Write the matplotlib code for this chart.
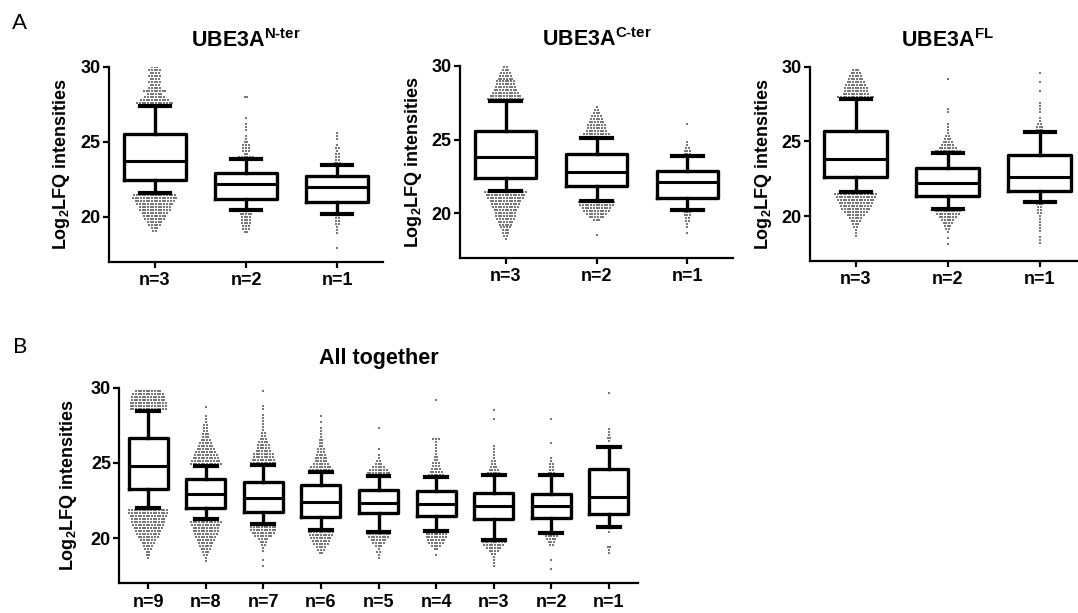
import numpy as np
import matplotlib
matplotlib.use("Agg")
import matplotlib.pyplot as plt

plt.rcParams['font.family'] = ['Liberation Sans', 'DejaVu Sans']
plt.rcParams['font.weight'] = 'bold'
plt.rcParams['axes.labelweight'] = 'bold'
plt.rcParams['axes.titleweight'] = 'bold'
plt.rcParams['mathtext.fontset'] = 'custom'
plt.rcParams['mathtext.rm'] = 'Liberation Sans:bold'
plt.rcParams['mathtext.it'] = 'Liberation Sans:bold'
plt.rcParams['mathtext.bf'] = 'Liberation Sans:bold'

# ---------------- data ----------------
a_labels = ['n=3', 'n=2', 'n=1']
b_labels = ['n=9', 'n=8', 'n=7', 'n=6', 'n=5', 'n=4', 'n=3', 'n=2', 'n=1']

# box statistics (log2 LFQ): lower whisker, Q1, median, Q3, upper whisker
nter_wlo = [21.56, 20.47, 20.20]
nter_q1 = [22.42, 21.20, 20.96]
nter_med = [23.69, 22.18, 22.00]
nter_q3 = [25.51, 22.90, 22.69]
nter_whi = [27.40, 23.82, 23.45]

cter_wlo = [21.54, 20.86, 20.22]
cter_q1 = [22.42, 21.88, 21.02]
cter_med = [23.86, 22.78, 22.15]
cter_q3 = [25.62, 24.04, 22.90]
cter_whi = [27.63, 25.10, 23.93]

fl_wlo = [21.60, 20.47, 20.92]
fl_q1 = [22.60, 21.36, 21.69]
fl_med = [23.81, 22.25, 22.60]
fl_q3 = [25.68, 23.20, 24.08]
fl_whi = [27.82, 24.20, 25.60]

all_wlo = [22.03, 21.27, 20.91, 20.56, 20.40, 20.47, 19.89, 20.36, 20.76]
all_q1 = [23.29, 22.03, 21.76, 21.40, 21.65, 21.49, 21.25, 21.31, 21.62]
all_med = [24.82, 22.96, 22.69, 22.42, 22.36, 22.29, 22.16, 22.16, 22.76]
all_q3 = [26.63, 23.91, 23.73, 23.51, 23.18, 23.13, 23.03, 22.93, 24.58]
all_whi = [28.47, 24.80, 24.89, 24.40, 24.16, 24.05, 24.18, 24.22, 26.07]

# points outside the whiskers: number of points per 0.2-wide level,
# counted outward from the first level above / below the whisker
LEVEL = 0.2

nter_hi_start = [27.55, 23.95, 23.55]
nter_hi_counts = [
    [14, 11, 8, 6, 9, 5, 4, 5, 4, 5, 4, 5, 3],
    [6, 2, 3, 3, 3, 2, 1, 1, 0, 1, 1, 1, 0, 1, 0, 0, 0, 0, 0, 0, 2],
    [3, 2, 2, 2, 1, 2, 1, 0, 1, 1, 1],
]
nter_lo_start = [21.45, 20.35, 20.10]
nter_lo_counts = [
    [16, 17, 15, 14, 12, 12, 10, 9, 8, 6, 5, 3, 2],
    [7, 5, 4, 4, 4, 3, 3, 2],
    [3, 2, 2, 2, 1, 1, 1, 0, 0, 0, 0, 1],
]

cter_hi_start = [27.75, 25.20, 24.05]
cter_hi_counts = [
    [14, 12, 10, 9, 8, 7, 7, 6, 5, 4, 3, 2],
    [12, 10, 8, 7, 7, 6, 5, 4, 3, 2, 1],
    [3, 3, 2, 1, 1, 0, 0, 0, 0, 0, 1],
]
cter_lo_start = [21.45, 20.75, 20.10]
cter_lo_counts = [
    [16, 15, 14, 12, 11, 10, 9, 8, 8, 7, 6, 5, 4, 3, 3, 2, 1],
    [14, 13, 11, 10, 8, 6, 3, 0, 0, 0, 0, 1],
    [3, 3, 2, 2, 1, 1, 0, 1],
]

fl_hi_start = [27.95, 24.35, 25.75]
fl_hi_counts = [
    [14, 10, 9, 9, 8, 7, 6, 5, 4, 3],
    [10, 7, 5, 4, 3, 2, 1, 1, 1, 1, 0, 0, 0, 1, 1, 0, 0, 0, 0, 0, 0, 0, 0, 0, 1],
    [3, 3, 2, 1, 1, 0, 1, 1, 1, 1, 0, 0, 0, 1, 0, 0, 1, 0, 0, 1],
]
fl_lo_start = [21.45, 20.35, 20.80]
fl_lo_counts = [
    [16, 15, 14, 13, 12, 11, 9, 7, 5, 4, 3, 2, 1, 1, 1],
    [10, 9, 7, 5, 4, 3, 2, 1, 0, 1, 0, 1],
    [3, 2, 2, 2, 1, 1, 1, 1, 1, 1, 0, 1, 1, 1],
]

all_hi_start = [28.60, 24.95, 25.00, 24.55, 24.30, 24.20, 24.30, 24.35, 26.25]
all_hi_counts = [
    [14, 14, 14, 13, 13, 12, 10],
    [12, 11, 10, 9, 8, 7, 6, 5, 4, 3, 3, 2, 2, 2, 1, 1, 1, 0, 0, 1],
    [10, 9, 8, 8, 6, 5, 5, 4, 3, 2, 2, 1, 1, 1, 1, 1, 1, 0, 1, 1, 0, 0, 0, 0, 1],
    [9, 8, 6, 5, 5, 4, 3, 3, 2, 2, 2, 1, 1, 1, 1, 0, 1, 0, 1],
    [9, 7, 5, 3, 2, 1, 1, 0, 1, 0, 0, 0, 0, 0, 0, 1],
    [6, 5, 4, 3, 3, 2, 2, 1, 1, 1, 1, 1, 3, 0, 0, 0, 0, 0, 0, 0, 0, 0, 0, 0, 0, 1],
    [5, 4, 3, 2, 2, 1, 1, 1, 1, 1, 0, 0, 0, 0, 0, 0, 0, 0, 1, 0, 0, 1],
    [3, 2, 2, 2, 1, 1, 0, 0, 0, 0, 1, 0, 0, 0, 0, 0, 0, 0, 1],
    [0, 1, 2, 1, 1, 1, 0, 0, 0, 0, 0, 0, 0, 0, 0, 0, 0, 1],
]
all_lo_start = [21.85, 21.10, 20.75, 20.40, 20.25, 20.30, 19.75, 20.15, 20.40]
all_lo_counts = [
    [15, 15, 14, 13, 13, 12, 11, 10, 9, 8, 6, 5, 4, 3, 2, 2, 1],
    [12, 11, 10, 10, 9, 8, 7, 6, 5, 4, 3, 2, 1, 1],
    [10, 10, 9, 7, 4, 3, 2, 1, 1, 0, 0, 1, 0, 1],
    [10, 9, 8, 7, 6, 4, 3, 2],
    [9, 8, 6, 5, 3, 1, 2, 1, 1],
    [8, 8, 7, 6, 4, 2, 0, 1],
    [9, 8, 6, 4, 2, 1, 1, 1, 1],
    [5, 4, 3, 2, 0, 0, 0, 0, 1, 0, 0, 1],
    [1, 0, 0, 0, 0, 2, 1, 1],
]

# ---------------- drawing ----------------
FIG_W, FIG_H = 1078, 613
fig = plt.figure(figsize=(FIG_W / 100, FIG_H / 100), dpi=100)


def px_axes(left, right, top, bottom):
    return fig.add_axes([left / FIG_W, 1 - bottom / FIG_H,
                         (right - left) / FIG_W, (bottom - top) / FIG_H])


def panel(ax, labels, wlo, q1, med, q3, whi, hi_start, hi_counts,
          lo_start, lo_counts, width_px, capw, title, title_pad, ylab_off):
    n = len(labels)
    pos = np.arange(n)
    stats = [dict(whislo=wlo[i], q1=q1[i], med=med[i], q3=q3[i],
                  whishi=whi[i], fliers=[]) for i in range(n)]

    # beeswarm of the points outside the whiskers
    pitch = 2.7 / (width_px / n)
    xs, ys = [], []
    for i in range(n):
        for start, counts, sign in ((hi_start[i], hi_counts[i], 1),
                                    (lo_start[i], lo_counts[i], -1)):
            for k, c in enumerate(counts):
                if c == 0:
                    continue
                y = start + sign * LEVEL * k
                xs.extend(pos[i] + (np.arange(c) - (c - 1) / 2) * pitch)
                ys.extend([y] * c)
    ax.scatter(xs, ys, s=0.6, marker='s', color='#787878',
               linewidths=0, zorder=1)

    ax.bxp(stats, positions=pos, widths=0.68, capwidths=capw,
           showfliers=False, manage_ticks=False,
           boxprops=dict(color='black', linewidth=2.4),
           whiskerprops=dict(color='black', linewidth=2.4),
           capprops=dict(color='black', linewidth=3.0),
           medianprops=dict(color='black', linewidth=2.2))

    ax.set_xlim(-0.5, n - 0.5)
    ax.set_ylim(17, 30)
    ax.set_yticks([20, 25, 30])
    ax.set_xticks(pos)
    ax.set_xticklabels(labels)
    for s in ('top', 'right'):
        ax.spines[s].set_visible(False)
    for s in ('left', 'bottom'):
        ax.spines[s].set_linewidth(1.6)
    ax.tick_params(axis='both', direction='out', length=4.5, width=1.6,
                   labelsize=13)
    ax.tick_params(axis='y', pad=1.5)
    ax.tick_params(axis='x', pad=3)
    ax.set_ylabel(r'Log$_{\mathrm{2}}$LFQ intensities', fontsize=13,
                  fontweight='bold')
    ax.yaxis.set_label_coords(-ylab_off / width_px, 0.5)
    ax.set_title(title, fontsize=15.5, fontweight='bold', pad=title_pad)


ax1 = px_axes(109, 383, 66.7, 261.7)
panel(ax1, a_labels, nter_wlo, nter_q1, nter_med, nter_q3, nter_whi,
      nter_hi_start, nter_hi_counts, nter_lo_start, nter_lo_counts,
      274, 0.33, r'UBE3A$^{\mathrm{N\text{-}ter}}$', 14.4, 37)

ax2 = px_axes(460, 733, 66, 257.7)
panel(ax2, a_labels, cter_wlo, cter_q1, cter_med, cter_q3, cter_whi,
      cter_hi_start, cter_hi_counts, cter_lo_start, cter_lo_counts,
      273, 0.33, r'UBE3A$^{\mathrm{C\text{-}ter}}$', 14.4, 36)

ax3 = px_axes(809.7, 1085.7, 66.7, 261)
panel(ax3, a_labels, fl_wlo, fl_q1, fl_med, fl_q3, fl_whi,
      fl_hi_start, fl_hi_counts, fl_lo_start, fl_lo_counts,
      276, 0.33, r'UBE3A$^{\mathrm{FL}}$', 14.4, 36)

ax4 = px_axes(119.3, 637.7, 387.7, 583.3)
panel(ax4, b_labels, all_wlo, all_q1, all_med, all_q3, all_whi,
      all_hi_start, all_hi_counts, all_lo_start, all_lo_counts,
      518.4, 0.38, 'All together', 16.8, 40)

fig.text(12 / FIG_W, 1 - 29 / FIG_H, 'A', fontsize=16, color='black',
         family=['Lato', 'DejaVu Sans'], fontweight='normal', va='baseline')
fig.text(13 / FIG_W, 1 - 353 / FIG_H, 'B', fontsize=16, color='black',
         family=['Lato', 'DejaVu Sans'], fontweight='normal', va='baseline')

fig.savefig('out.png', dpi=100, facecolor='white')
